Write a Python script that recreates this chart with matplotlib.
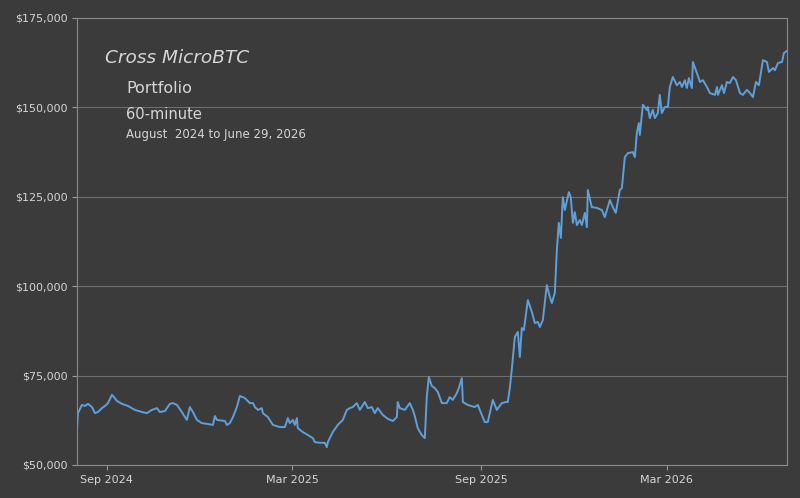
import matplotlib
matplotlib.use("Agg")
import matplotlib.pyplot as plt
import matplotlib.dates as mdates
import matplotlib.ticker as mticker
import numpy as np
import pandas as pd

start_date = "2024-08-01"
days_since_start = [
    1.8, 2.7, 6.6, 9.6, 12.5, 16.4, 19.3, 22.2, 26.1, 29.1, 32.0, 35.9, 37.8, 40.8,
    45.6, 51.5, 58.3, 65.2, 70.0, 74.9, 79.8, 82.7, 87.6, 92.4, 95.4, 99.3, 104.1,
    107.1, 109.0, 111.9, 114.9, 118.8, 123.6, 128.5, 134.4, 136.3, 138.3, 146.1,
    148.0, 150.9, 153.9, 157.8, 160.7, 165.6, 170.4, 173.4, 175.3, 178.2, 182.1,
    183.1, 188.0, 192.9, 199.7, 204.6, 207.5, 209.4, 212.4, 214.3, 216.3, 217.2,
    222.1, 227.0, 231.9, 233.8, 238.7, 243.5, 245.5, 246.5, 251.3, 256.2, 261.1,
    265.0, 267.9, 270.8, 274.7, 277.7, 282.5, 285.5, 289.4, 292.3, 295.2, 300.1,
    305.0, 309.9, 313.8, 314.7, 316.7, 321.6, 326.4, 329.4, 331.3, 334.2, 338.1,
    341.1, 343.0, 345.0, 347.9, 350.8, 353.8, 357.7, 362.5, 365.4, 368.4, 372.3,
    374.3, 377.2, 378.2, 383.0, 389.8, 392.8, 394.7, 399.6, 402.5, 407.4, 411.3,
    416.2, 420.1, 422.0, 424.0, 425.9, 428.9, 431.8, 433.8, 435.7, 437.7, 441.6,
    445.5, 448.4, 451.3, 453.3, 456.2, 460.1, 463.0, 465.0, 467.9, 469.9, 471.8,
    473.8, 475.7, 477.7, 481.6, 483.5, 485.5, 487.4, 489.4, 492.3, 494.3, 497.2,
    499.2, 500.1, 504.0, 508.9, 513.8, 516.7, 521.6, 524.5, 527.4, 531.3, 533.3,
    536.2, 539.2, 544.0, 546.0, 547.9, 549.9, 550.8, 553.8, 557.7, 558.6, 560.6,
    563.5, 565.5, 568.4, 570.3, 572.3, 575.2, 578.2, 580.1, 583.0, 587.0, 589.9,
    591.9, 594.8, 596.7, 598.7, 601.6, 602.6, 606.5, 609.5, 612.4, 616.3, 619.2,
    624.1, 626.1, 627.0, 630.9, 632.9, 635.8, 638.7, 641.7, 644.6, 648.5, 651.4,
    655.3, 658.2, 661.2, 664.1, 667.0, 670.9, 674.8, 676.8, 680.7, 682.6, 685.6,
    689.5, 691.4, 694.4,
]
portfolio_value = [
    59800, 64500, 66800, 66500, 67100, 66200, 64500, 64800, 65900, 66500, 67300, 69600, 69000, 67900,
    67100, 66500, 65400, 64800, 64500, 65400, 65900, 64800, 65100, 67100, 67300, 66800, 64800,
    63400, 62600, 66200, 64800, 62600, 61700, 61500, 61200, 63700, 62600, 62300,
    61200, 61700, 63400, 66200, 69300, 68700, 67300, 67300, 66200, 65400, 65900,
    64500, 63400, 61200, 60600, 60600, 63100, 61700, 62600, 61200, 63100, 60300,
    59200, 58400, 57500, 56400, 56200, 56200, 55000, 56400, 59200, 61200, 62600,
    65400, 65900, 66200, 67300, 65400, 67600, 65900, 66200, 64500, 65900, 64000,
    62900, 62300, 63400, 67600, 65900, 65400, 67300, 65400, 63700, 60300, 58400,
    57500, 69000, 74600, 72100, 71500, 70400, 67300, 67300, 69000, 68200, 70100,
    71500, 74300, 67600, 66800, 66200, 66800, 65400, 62000, 62000, 68200, 65400,
    67300, 67600, 67600, 71500, 76600, 85800, 87200, 80200, 88300, 87700, 96100,
    92800, 89700, 90000, 88600, 90500, 100300, 97000, 95300, 98100, 110100, 117700,
    113500, 124900, 121300, 126300, 124900, 117700, 120700, 117100, 118500, 117100, 120500,
    116500, 126900, 122100, 121900, 121300, 119300, 124100, 122100, 120500, 126900, 127400,
    136100, 137200, 137500, 136100, 142800, 145600, 142300, 150700, 149300, 150100, 147000,
    149300, 147000, 148400, 153500, 148400, 150100, 150100, 155700, 158500, 156200, 157100,
    155700, 157600, 155400, 158200, 155400, 162700, 159600, 157100, 157600, 155700, 154000,
    153500, 155700, 153500, 156200, 154000, 157100, 156800, 158500, 157600, 154000, 153500,
    154900, 154000, 152900, 157100, 156200, 163200, 162700, 159900, 161000, 160400, 162400,
    162700, 165200, 165800,
]

y_ticks = [50000, 75000, 100000, 125000, 150000, 175000]
title_main = "Cross MicroBTC"
title_sub = "Portfolio"
title_freq = "60-minute"
title_range = "August  2024 to June 29, 2026"

bg = "#3b3b3b"
fg = "#d6d6d6"
grid_c = "#6e6e6e"
line_c = "#5fa0da"

dates = pd.Timestamp(start_date) + pd.to_timedelta(np.array(days_since_start), unit="D")

fig = plt.figure(figsize=(8, 4.98), dpi=100, facecolor=bg)
ax = fig.add_axes([0.09625, 0.0663, 0.8875, 0.8976])
ax.set_facecolor(bg)
ax.plot(dates, portfolio_value, color=line_c, lw=1.4)

ax.set_xlim(dates[0], dates[-1])
ax.set_ylim(y_ticks[0], y_ticks[-1])
ax.set_yticks(y_ticks)
ax.yaxis.set_major_formatter(mticker.FuncFormatter(lambda v, p: f"${v:,.0f}"))
ax.xaxis.set_major_locator(mdates.MonthLocator(bymonth=[3, 9]))
ax.xaxis.set_major_formatter(mdates.DateFormatter("%b %Y"))
ax.grid(axis="y", color=grid_c, lw=0.8)
ax.set_axisbelow(True)
for s in ax.spines.values():
    s.set_color("#8a8a8a")
    s.set_linewidth(0.8)
ax.tick_params(colors="#9a9a9a", labelcolor=fg, labelsize=8, length=3.5)

ax.text(0.039, 0.899, title_main, transform=ax.transAxes, fontsize=13.3,
        style="italic", color=fg, va="baseline")
ax.text(0.069, 0.833, title_sub, transform=ax.transAxes, fontsize=11.5,
        color=fg, va="baseline")
ax.text(0.069, 0.774, title_freq, transform=ax.transAxes, fontsize=10.5,
        color=fg, va="baseline")
ax.text(0.069, 0.731, title_range, transform=ax.transAxes, fontsize=8.5,
        color=fg, va="baseline")

fig.savefig("out.png", dpi=100, facecolor=bg)
